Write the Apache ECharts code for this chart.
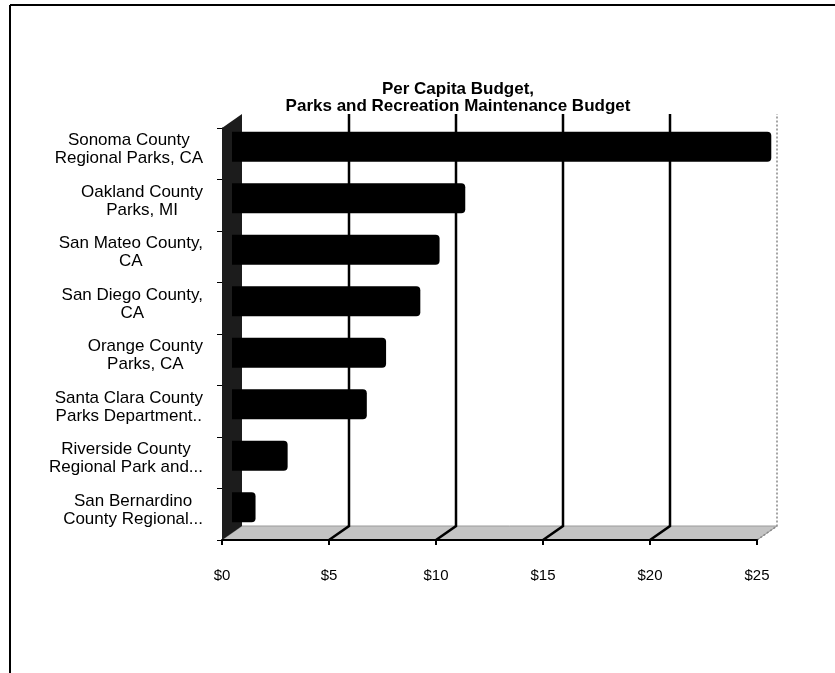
<!DOCTYPE html>
<html>
<head>
<meta charset="utf-8">
<script src="https://cdn.jsdelivr.net/npm/echarts@6/dist/echarts.min.js"></script>
<style>
  html, body { margin: 0; padding: 0; background: #fff; }
  #chart { width: 835px; height: 673px; }
</style>
</head>
<body>
<div id="chart"></div>
<script>
// data
const parks = [
  'Sonoma County\nRegional Parks, CA',
  'Oakland County\nParks, MI',
  'San Mateo County,\nCA',
  'San Diego County,\nCA',
  'Orange County\nParks, CA',
  'Santa Clara County\nParks Department..',
  'Riverside County\nRegional Park and...',
  'San Bernardino\nCounty Regional...'
];
const perCapita = [25.2, 10.9, 9.7, 8.8, 7.2, 6.3, 2.6, 1.1];
const xTicks = [0, 5, 10, 15, 20, 25];

// fake 3d depth (pixels)
const dx = 20, dy = -14;

const myChart = echarts.init(document.getElementById('chart'));

function renderBox(params, api) {
  const cs = params.coordSys;
  const x0 = cs.x, y0 = cs.y, w = cs.width, h = cs.height;
  const kids = [];
  // floor
  kids.push({
    type: 'polygon',
    shape: { points: [[x0, y0 + h], [x0 + w, y0 + h], [x0 + w + dx, y0 + h + dy], [x0 + dx, y0 + h + dy]] },
    style: { fill: '#c4c4c4', stroke: '#9a9a9a', lineWidth: 1 }
  });
  // left wall
  kids.push({
    type: 'polygon',
    shape: { points: [[x0, y0], [x0 + dx, y0 + dy], [x0 + dx, y0 + h + dy], [x0, y0 + h]] },
    style: { fill: '#1c1c1c' }
  });
  // grid lines on floor + back wall
  xTicks.forEach(function (v, i) {
    if (i === 0) return;
    const x = api.coord([v, 0])[0];
    const last = i === xTicks.length - 1;
    kids.push({
      type: 'polyline',
      shape: { points: [[x, y0 + h], [x + dx, y0 + h + dy], [x + dx, y0 + dy]] },
      style: last
        ? { stroke: '#888', lineWidth: 1.5, lineDash: [2, 2], fill: null }
        : { stroke: '#000', lineWidth: 2.5, fill: null }
    });
  });
  return { type: 'group', children: kids };
}

function renderBar(params, api) {
  const start = api.coord([0, api.value(1)]);
  const end = api.coord([api.value(0), api.value(1)]);
  const bh = api.size([0, 1])[1] * 0.58;
  return {
    type: 'rect',
    shape: {
      x: start[0] + dx / 2,
      y: start[1] + dy / 2 - bh / 2,
      width: end[0] - start[0],
      height: bh,
      r: [0, 4, 4, 0]
    },
    style: { fill: '#000' }
  };
}

myChart.setOption({
  animation: false,
  textStyle: { fontFamily: 'Arial, "Liberation Sans", sans-serif' },
  title: {
    text: 'Per Capita Budget,\nParks and Recreation Maintenance Budget',
    left: 453,
    top: 76,
    textAlign: 'center',
    textStyle: { fontSize: 17, fontWeight: 'bold', color: '#000', lineHeight: 17 }
  },
  graphic: [
    { type: 'line', shape: { x1: 10, y1: 5, x2: 835, y2: 5 }, style: { stroke: '#000', lineWidth: 2 } },
    { type: 'line', shape: { x1: 10, y1: 5, x2: 10, y2: 673 }, style: { stroke: '#000', lineWidth: 2 } }
  ],
  grid: { left: 222, right: 78, top: 128, bottom: 133 },
  xAxis: {
    type: 'value',
    min: 0,
    max: 25,
    interval: 5,
    z: 5,
    axisLine: { show: true, lineStyle: { color: '#000', width: 2 } },
    axisTick: { show: true, length: 5, lineStyle: { color: '#000', width: 2 } },
    splitLine: { show: false },
    axisLabel: { color: '#000', fontSize: 15, margin: 28, formatter: function (v) { return '$' + v; } }
  },
  yAxis: {
    type: 'category',
    inverse: true,
    data: parks,
    axisLine: { show: true, lineStyle: { color: '#000', width: 1 } },
    axisTick: { show: true, length: 5, lineStyle: { color: '#000' } },
    axisLabel: {
      color: '#000',
      margin: 19,
      padding: [0, 0, 8, 0],
      formatter: function (v) {
        return v.split('\n').map(function (s) { return '{a|' + s + '}'; }).join('\n');
      },
      rich: { a: { fontSize: 17, lineHeight: 18, align: 'center', color: '#000' } }
    }
  },
  series: [
    {
      type: 'custom',
      z: 1,
      renderItem: renderBox,
      data: [[0, 0]],
      silent: true
    },
    {
      type: 'custom',
      z: 3,
      renderItem: renderBar,
      data: perCapita.map(function (v, i) { return [v, i]; })
    }
  ]
});
</script>
</body>
</html>
